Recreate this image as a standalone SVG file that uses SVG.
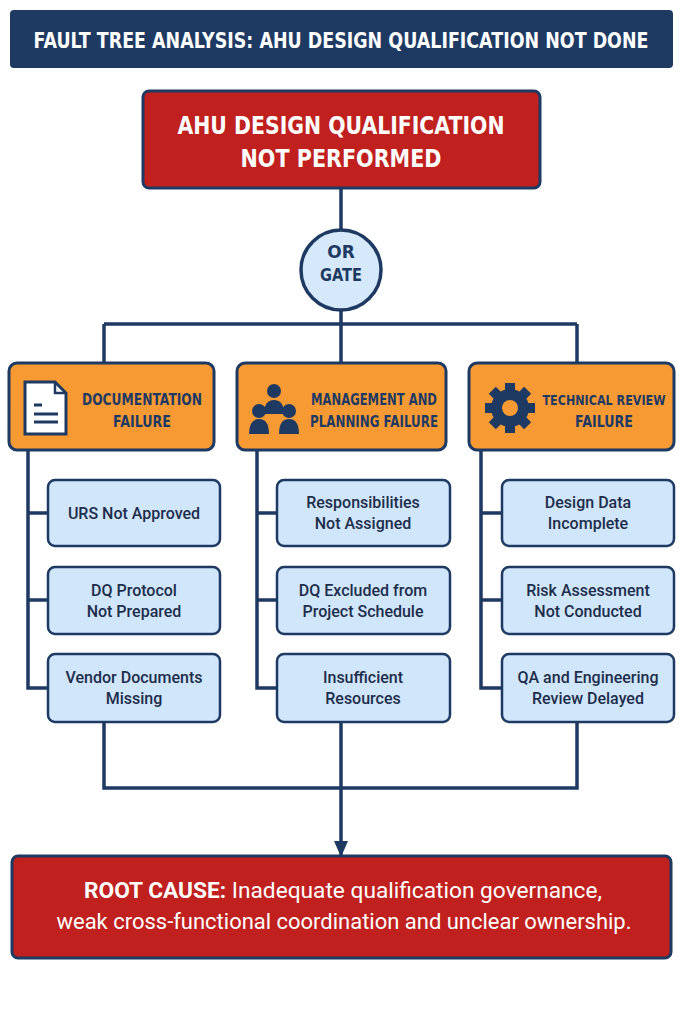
<svg xmlns="http://www.w3.org/2000/svg" width="683" height="1024" viewBox="0 0 683 1024">
<style>
.nv{fill:#1e3a63}
.t{font-family:"DejaVu Sans","Liberation Sans",sans-serif;font-weight:bold;text-anchor:middle}
.w{fill:#fff}
.ln{stroke:#1e3a63;stroke-width:3.5;fill:none}
.or{fill:#f79a33;stroke:#1e3a63;stroke-width:3}
.ch{fill:#cfe6fb;stroke:#1e3a63;stroke-width:2.5}
.red{fill:#c0201e;stroke:#1e3a63;stroke-width:3}
.ct{font-family:"Roboto","Liberation Sans",sans-serif;font-size:16px;fill:#1e2d4a;text-anchor:middle;font-weight:500}
</style>
<defs><marker id="ar" markerWidth="16" markerHeight="14" refX="14" refY="7" orient="auto" markerUnits="userSpaceOnUse"><path d="M0,0 L16,7 L0,14 z" fill="#1e3a63"/></marker></defs>
<rect width="683" height="1024" fill="#fff"/>
<g id="connectors">
<path class="ln" d="M341 188 V230 M341 310 V324 M104 324 H577 M104 324 V363 M341 324 V363 M577 324 V363"/>
<path class="ln" d="M28 450 V688 H48 M28 513 H48 M28 600 H48"/>
<path class="ln" d="M257 450 V688 H277 M257 513 H277 M257 600 H277"/>
<path class="ln" d="M481 450 V688 H502 M481 513 H502 M481 600 H502"/>
<path class="ln" d="M104 722 V788 H577 V722 M341 722 V788"/>
<path class="ln" d="M341 788 V855" marker-end="url(#ar)"/>
</g>
<g id="title"><rect x="10" y="10" width="663" height="58" rx="4" class="nv"/><text x="341" y="48" class="t w" font-size="21" textLength="615" lengthAdjust="spacingAndGlyphs">FAULT TREE ANALYSIS: AHU DESIGN QUALIFICATION NOT DONE</text></g>
<g id="top"><rect x="143" y="91" width="397" height="97" rx="6" class="red"/><text x="341" y="134" class="t w" font-size="25" textLength="327" lengthAdjust="spacingAndGlyphs">AHU DESIGN QUALIFICATION</text><text x="341" y="167" class="t w" font-size="25" textLength="201" lengthAdjust="spacingAndGlyphs">NOT PERFORMED</text></g>
<g id="gate"><circle cx="341" cy="270" r="40" fill="#d6e9fb" stroke="#1e3a63" stroke-width="3.5"/><text x="341" y="258" class="t" font-size="17" fill="#1e3a63">OR</text><text x="341" y="281" class="t" font-size="17" fill="#1e3a63" textLength="42" lengthAdjust="spacingAndGlyphs">GATE</text></g>
<g id="doc"><rect x="9" y="363" width="205" height="87" rx="8" class="or"/>
<path d="M25 382 H55 L66 393 V434 H25 Z" fill="#fff" stroke="#1e3a63" stroke-width="3"/><path d="M55 382 V393 H66" fill="none" stroke="#1e3a63" stroke-width="2.5"/>
<path d="M34 405 H42 M34 414 H58 M34 422 H58" stroke="#1e3a63" stroke-width="3"/>
<text x="142" y="405" class="t" font-size="15" fill="#1e3a63" textLength="120" lengthAdjust="spacingAndGlyphs">DOCUMENTATION</text><text x="142" y="427" class="t" font-size="15" fill="#1e3a63" textLength="58" lengthAdjust="spacingAndGlyphs">FAILURE</text></g>
<g id="mgmt"><rect x="237" y="363" width="209" height="87" rx="8" class="or"/>
<circle cx="274" cy="391" r="7" class="nv"/><path d="M264 414 Q264 400 274 400 Q284 400 284 414 Z" class="nv"/>
<circle cx="259" cy="411" r="7" class="nv"/><path d="M249 434 Q249 419 259 419 Q269 419 269 434 Z" class="nv"/>
<circle cx="289" cy="411" r="7" class="nv"/><path d="M279 434 Q279 419 289 419 Q299 419 299 434 Z" class="nv"/>
<text x="374" y="405" class="t" font-size="15" fill="#1e3a63" textLength="126" lengthAdjust="spacingAndGlyphs">MANAGEMENT AND</text><text x="374" y="427" class="t" font-size="15" fill="#1e3a63" textLength="128" lengthAdjust="spacingAndGlyphs">PLANNING FAILURE</text></g>
<g id="tech"><rect x="469" y="363" width="205" height="87" rx="8" class="or"/>
<g transform="translate(510 408)"><g class="nv"><rect x="-5" y="-25" width="10" height="50"/><rect x="-5" y="-25" width="10" height="50" transform="rotate(45)"/><rect x="-5" y="-25" width="10" height="50" transform="rotate(90)"/><rect x="-5" y="-25" width="10" height="50" transform="rotate(135)"/><circle r="19"/></g><circle r="8" fill="#f79a33"/></g>
<text x="604" y="405" class="t" font-size="14" fill="#1e3a63" textLength="123" lengthAdjust="spacingAndGlyphs">TECHNICAL REVIEW</text><text x="604" y="427" class="t" font-size="15" fill="#1e3a63" textLength="58" lengthAdjust="spacingAndGlyphs">FAILURE</text></g>
<g id="c1"><rect x="48" y="480" width="172" height="66" rx="7" class="ch"/><text x="134" y="519" class="ct">URS Not Approved</text></g>
<g id="c2"><rect x="48" y="567" width="172" height="67" rx="7" class="ch"/><text x="134" y="596" class="ct">DQ Protocol</text><text x="134" y="617" class="ct">Not Prepared</text></g>
<g id="c3"><rect x="48" y="654" width="172" height="68" rx="7" class="ch"/><text x="134" y="683" class="ct">Vendor Documents</text><text x="134" y="704" class="ct">Missing</text></g>
<g id="c4"><rect x="277" y="480" width="173" height="66" rx="7" class="ch"/><text x="363" y="508" class="ct">Responsibilities</text><text x="363" y="529" class="ct">Not Assigned</text></g>
<g id="c5"><rect x="277" y="567" width="173" height="67" rx="7" class="ch"/><text x="363" y="596" class="ct">DQ Excluded from</text><text x="363" y="617" class="ct">Project Schedule</text></g>
<g id="c6"><rect x="277" y="654" width="173" height="68" rx="7" class="ch"/><text x="363" y="683" class="ct">Insufficient</text><text x="363" y="704" class="ct">Resources</text></g>
<g id="c7"><rect x="502" y="480" width="172" height="66" rx="7" class="ch"/><text x="588" y="508" class="ct">Design Data</text><text x="588" y="529" class="ct">Incomplete</text></g>
<g id="c8"><rect x="502" y="567" width="172" height="67" rx="7" class="ch"/><text x="588" y="596" class="ct">Risk Assessment</text><text x="588" y="617" class="ct">Not Conducted</text></g>
<g id="c9"><rect x="502" y="654" width="172" height="68" rx="7" class="ch"/><text x="588" y="683" class="ct">QA and Engineering</text><text x="588" y="704" class="ct">Review Delayed</text></g>
<g id="root"><rect x="12" y="856" width="659" height="102" rx="6" class="red"/>
<text x="343" y="898" font-family="Roboto,'Liberation Sans',sans-serif" font-size="22" fill="#fff" text-anchor="middle" textLength="518" lengthAdjust="spacingAndGlyphs"><tspan font-weight="bold">ROOT CAUSE:</tspan> Inadequate qualification governance,</text>
<text x="344" y="929" font-family="Roboto,'Liberation Sans',sans-serif" font-size="22" fill="#fff" text-anchor="middle" textLength="575" lengthAdjust="spacingAndGlyphs">weak cross-functional coordination and unclear ownership.</text></g>
</svg>
